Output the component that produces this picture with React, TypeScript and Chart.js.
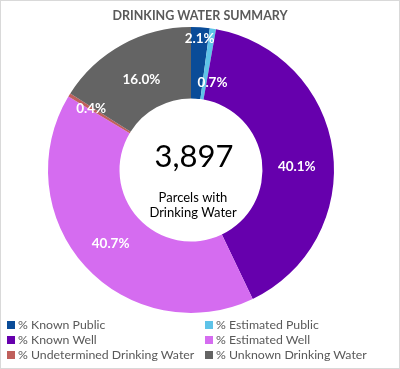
import React, { useEffect, useRef } from "react";
import { Chart, registerables } from "chart.js";

Chart.register(...registerables);

const title = "DRINKING WATER SUMMARY";
const categories = [
  "% Known Public",
  "% Estimated Public",
  "% Known Well",
  "% Estimated Well",
  "% Undetermined Drinking Water",
  "% Unknown Drinking Water",
];
const values = [2.1, 0.7, 40.1, 40.7, 0.4, 16.0];
const colors = ["#0a4c98", "#5ec3e8", "#6600ad", "#d56cf0", "#c0605c", "#646464"];
const centerTotal = "3,897";
const centerLines = ["Parcels with", "Drinking Water"];
// label placement: fraction of outer radius, angular nudge (degrees)
const labelRadius = [0.92, 0.63, 0.74, 0.76, 0.82, 0.72];
const labelNudge = [0, 5, 6, 0, 0, 0];

const FONT = "Lato, 'Open Sans', sans-serif";

const labelPlugin = {
  id: "arcLabels",
  afterDatasetsDraw(chart: any) {
    const ctx = chart.ctx;
    const meta = chart.getDatasetMeta(0);
    ctx.save();
    ctx.textAlign = "center";
    ctx.textBaseline = "middle";
    meta.data.forEach((arc: any, i: number) => {
      const { x, y, startAngle, endAngle, outerRadius } = arc.getProps(
        ["x", "y", "startAngle", "endAngle", "outerRadius"],
        true
      );
      const a = (startAngle + endAngle) / 2 + (labelNudge[i] * Math.PI) / 180;
      const r = outerRadius * labelRadius[i];
      ctx.fillStyle = "#ffffff";
      ctx.font = `bold 13.5px ${FONT}`;
      ctx.fillText(values[i].toFixed(1) + "%", x + r * Math.cos(a), y + r * Math.sin(a));
    });
    // center text
    const arc0 = meta.data[0];
    const cx = arc0.x;
    const cy = arc0.y;
    ctx.fillStyle = "#000000";
    ctx.font = `31px ${FONT}`;
    ctx.fillText(centerTotal, cx + 3, cy - 13);
    ctx.font = `13px ${FONT}`;
    ctx.fillText(centerLines[0], cx + 2, cy + 28);
    ctx.fillText(centerLines[1], cx + 2, cy + 43);
    ctx.restore();
  },
};

export default function App() {
  const ref = useRef<HTMLCanvasElement>(null);
  useEffect(() => {
    const chart = new Chart(ref.current!, {
      type: "doughnut",
      data: {
        labels: categories,
        datasets: [
          {
            data: values,
            backgroundColor: colors,
            borderWidth: 0,
            hoverOffset: 0,
          },
        ],
      },
      options: {
        animation: false,
        responsive: false,
        maintainAspectRatio: false,
        cutout: "50%",
        layout: { padding: { left: 48, top: 27, right: 66, bottom: 56 } },
        plugins: {
          legend: { display: false },
          tooltip: { enabled: false },
          title: { display: false },
        },
      },
      plugins: [labelPlugin],
    });
    return () => chart.destroy();
  }, []);

  return (
    <div
      style={{
        position: "absolute",
        left: 0,
        top: 0,
        width: 400,
        height: 369,
        boxSizing: "border-box",
        border: "1px solid #d9d9d9",
        background: "#fff",
        fontFamily: FONT,
        overflow: "hidden",
      }}
    >
      <canvas
        ref={ref}
        width={400}
        height={369}
        style={{ position: "absolute", left: -1, top: -1, width: 400, height: 369 }}
      />
      <div
        style={{
          position: "absolute",
          left: 0,
          top: 7,
          width: 398,
          textAlign: "center",
          fontWeight: "bold",
          fontSize: 12.5,
          color: "#595959",
          letterSpacing: 0,
        }}
      >
        {title}
      </div>
      <div
        style={{
          position: "absolute",
          left: 6,
          top: 316,
          display: "grid",
          gridTemplateColumns: "198px 190px",
          rowGap: 0,
          fontSize: 12.3,
          color: "#595959",
          lineHeight: "15px",
        }}
      >
        {categories.map((c, i) => (
          <div key={c} style={{ display: "flex", alignItems: "center", whiteSpace: "nowrap" }}>
            <span
              style={{
                display: "inline-block",
                width: 8,
                height: 8,
                background: colors[i],
                marginRight: 3,
              }}
            />
            <span>{c}</span>
          </div>
        ))}
      </div>
    </div>
  );
}
